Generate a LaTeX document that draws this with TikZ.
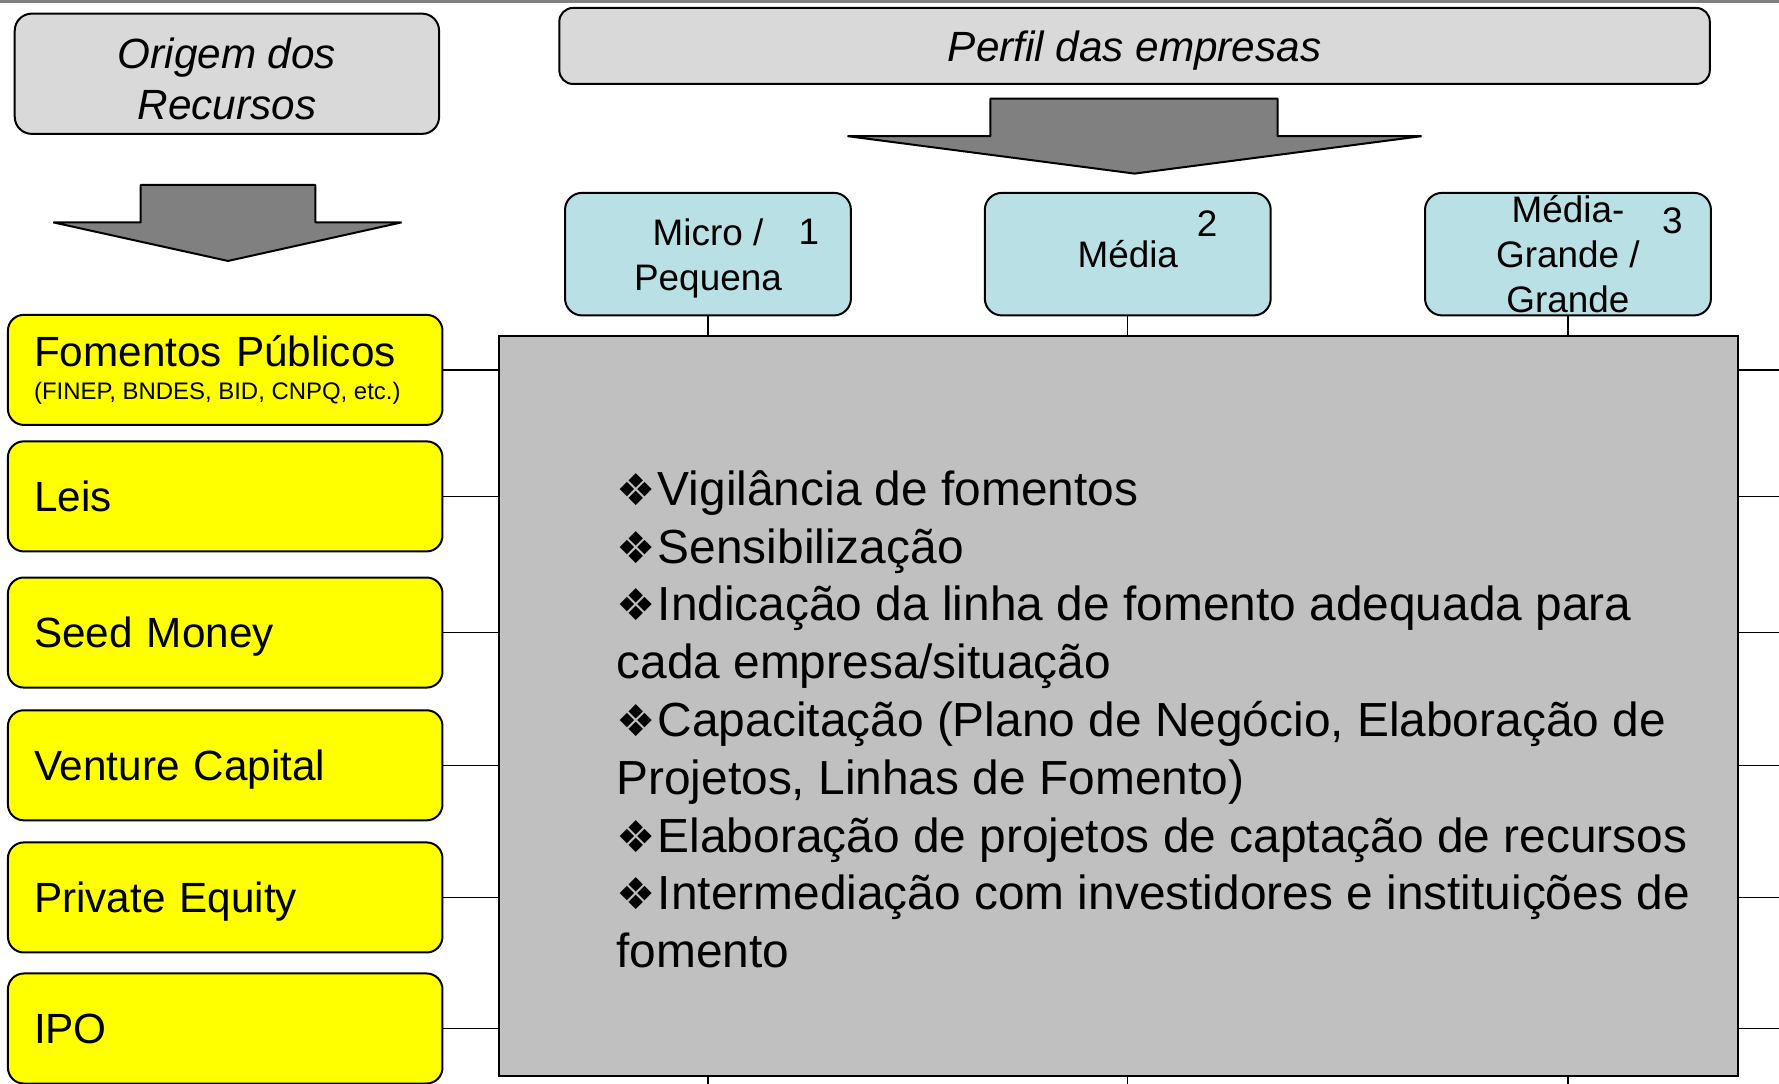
\documentclass[tikz,border=0pt]{standalone}
\usepackage{fontspec}
\setmainfont{Liberation Sans}
\newfontfamily\dingfont{DejaVu Sans}
\usetikzlibrary{calc}
\definecolor{headgray}{RGB}{217,217,217}
\definecolor{arrowgray}{RGB}{128,128,128}
\definecolor{sizeblue}{RGB}{185,224,228}
\definecolor{boxgray}{RGB}{192,192,192}
\definecolor{srcyellow}{RGB}{255,255,0}
\newcommand{\bul}{{\dingfont\fontsize{22}{22}\selectfont ❖}\hspace{1pt}}
\tikzset{
  headbox/.style={draw, line width=1pt, fill=headgray, rounded corners=3mm, inner sep=0pt},
  headtext/.style={align=center, inner sep=0pt, font=\fontsize{21.2}{25.6}\selectfont\itshape},
  srcbox/.style={draw, line width=1pt, fill=srcyellow, rounded corners=2.8mm,
    minimum width=76.6mm, minimum height=19.4mm, text width=67.4mm, align=left,
    inner xsep=4.6mm, inner ysep=0pt, font=\fontsize{21.2}{25.4}\selectfont},
  oneline/.style={text depth=0pt},
  sizebox/.style={draw, line width=1pt, fill=sizeblue, rounded corners=3mm,
    minimum width=50.4mm, minimum height=21.6mm, inner sep=0pt},
  sizetext/.style={align=center, inner sep=0pt, font=\fontsize{18.5}{22.5}\selectfont},
  sizenum/.style={inner sep=0pt, font=\fontsize{18.5}{22.5}\selectfont},
  listtxt/.style={align=left, inner sep=0pt, font=\fontsize{24}{29}\selectfont},
  blockarrow/.style={draw, line width=1pt, fill=arrowgray, line join=bevel},
  link/.style={line width=0.7pt}
}

\begin{document}
\begin{tikzpicture}[x=0.2mm, y=-0.2mm]
    \useasboundingbox (0,0) rectangle (1568,955.4);
    \draw[arrowgray, line width=0.5mm] (0,1) -- (1568,1);
    \node[headbox, minimum width=74.8mm, minimum height=21.2mm,
      label={[headtext, yshift=-0.9mm]center:{Origem dos\\Recursos}}] (origem) at (200,65) {};
    \node[headbox, minimum width=202.8mm, minimum height=13.4mm, rounded corners=2.4mm,
      label={[headtext, yshift=-0.9mm]center:{Perfil das empresas}}] (perfil) at (1000,40.5) {};
    \draw[blockarrow] (124,163) -- (278,163) -- (278,196) -- (354,196) -- (201,230) -- (47,196) -- (124,196) -- cycle;
    \draw[blockarrow] (873,87) -- (1126,87) -- (1126,120) -- (1253,120) -- (1000,153) -- (747,120) -- (873,120) -- cycle;
    \node[draw, line width=1pt, fill=boxgray, minimum width=218.4mm, minimum height=130.4mm, inner sep=0pt] (servicos) at (986,622) {};
    \node[sizebox, label={[sizetext, yshift=-0.8mm]center:{Micro /\\Pequena}}] (micro) at (624,224) {};
    \node[sizebox, label={[sizetext]center:{Média}}] (media) at (994,224) {};
    \node[sizebox, label={[sizetext]center:{Média-\\Grande /\\Grande}}] (grande) at (1382,224) {};
    \node[sizenum] (num1) at (713,204) {1};
    \node[sizenum] (num2) at (1064,197) {2};
    \node[sizenum] (num3) at (1474,195) {3};
    \node[srcbox] (fomentos) at (198.5,326) {Fomentos Públicos\\[-8.4pt]\makebox[\linewidth][l]{\fontsize{12}{14}\selectfont\spaceskip=0pt\xspaceskip=0pt (FINEP, BNDES, BID, CNPQ, etc.)}};
    \node[srcbox, oneline] (leis) at (198.5,437.5) {Leis};
    \node[srcbox, oneline] (seed) at (198.5,557.5) {Seed Money};
    \node[srcbox, oneline] (venture) at (198.5,674.5) {Venture Capital};
    \node[srcbox, oneline] (private) at (198.5,791) {Private Equity};
    \node[srcbox, oneline] (ipo) at (198.5,906.5) {IPO};
    \foreach \s in {fomentos,leis,seed,venture,private,ipo}{
      \draw[link] (\s.east) -- (\s.east -| servicos.west);
      \draw[link] (\s.east -| servicos.east) -- ++(40,0);
    }
    \foreach \s in {micro,media,grande}{
      \draw[link] (\s.south) -- (\s.south |- servicos.north);
      \draw[link] (\s.south |- servicos.south) -- ++(0,20);
    }
    \node[listtxt, anchor=base west] (lista) at (543,853) {\bul Vigilância de fomentos\\
      \bul Sensibilização\\
      \bul Indicação da linha de fomento adequada para\\
      cada empresa/situação\\
      \bul Capacitação (Plano de Negócio, Elaboração de\\
      Projetos, Linhas de Fomento)\\
      \bul Elaboração de projetos de captação de recursos\\
      \bul Intermediação com investidores e instituições de\\
      fomento};
\end{tikzpicture}
\end{document}
